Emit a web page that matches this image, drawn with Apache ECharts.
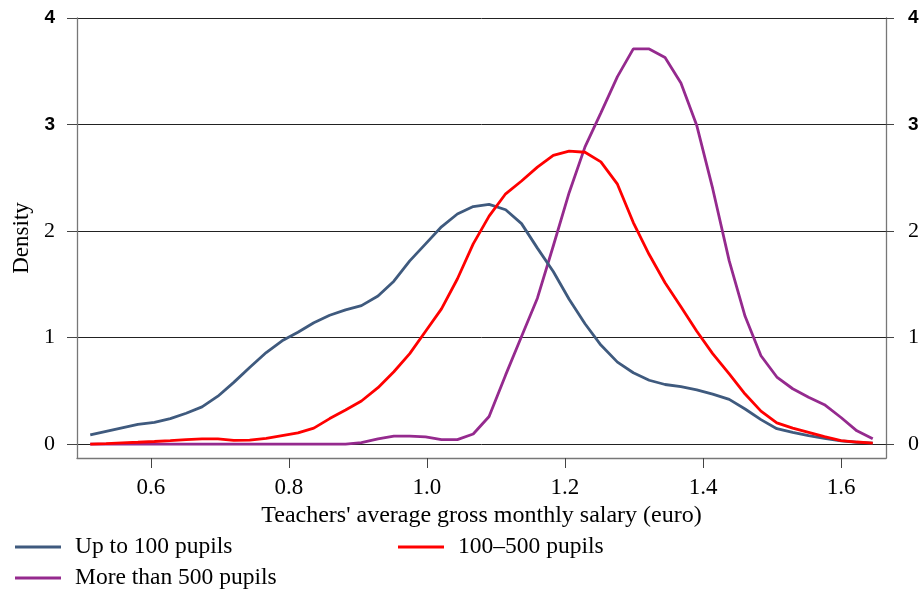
<!DOCTYPE html>
<html>
<head>
<meta charset="utf-8">
<script src="https://cdn.jsdelivr.net/npm/echarts@6/dist/echarts.min.js"></script>
<style>html,body{margin:0;padding:0;background:#fff}#c{width:924px;height:593px}</style>
</head>
<body>
<div id="c"></div>
<script>
var salary = [0.512,0.535,0.558,0.581,0.605,0.628,0.651,0.674,0.697,0.720,
  0.743,0.767,0.790,0.813,0.836,0.859,0.882,0.905,0.929,0.952,
  0.975,0.998,1.021,1.044,1.067,1.090,1.114,1.137,1.160,1.183,
  1.206,1.229,1.252,1.276,1.299,1.322,1.345,1.368,1.391,1.414,
  1.438,1.461,1.484,1.507,1.530,1.553,1.576,1.600,1.623,1.646];
var upTo100 = [0.087,0.12,0.153,0.185,0.205,0.24,0.29,0.35,0.45,0.58,
  0.72,0.86,0.97,1.05,1.14,1.21,1.26,1.30,1.39,1.53,
  1.72,1.88,2.04,2.16,2.23,2.25,2.20,2.07,1.84,1.62,
  1.36,1.13,0.93,0.77,0.67,0.60,0.56,0.54,0.51,0.47,
  0.42,0.33,0.23,0.145,0.11,0.08,0.055,0.03,0.018,0.01];
var from100to500 = [0.0,0.005,0.012,0.018,0.025,0.033,0.042,0.05,0.05,0.036,
  0.037,0.055,0.08,0.105,0.15,0.24,0.32,0.405,0.53,0.68,
  0.85,1.06,1.27,1.55,1.88,2.14,2.35,2.47,2.60,2.71,
  2.75,2.74,2.65,2.44,2.08,1.78,1.515,1.29,1.06,0.85,
  0.66,0.47,0.31,0.20,0.15,0.11,0.07,0.034,0.02,0.01];
var over500 = [0,0,0,0,0,0,0,0,0,0,
  0,0,0,0,0,0,0,0.015,0.05,0.075,
  0.075,0.068,0.043,0.043,0.095,0.26,0.65,1.01,1.37,1.86,
  2.36,2.79,3.11,3.45,3.71,3.71,3.63,3.39,2.99,2.40,
  1.72,1.20,0.83,0.63,0.52,0.44,0.37,0.25,0.125,0.05];
var xTicks = [0.6,0.8,1.0,1.2,1.4,1.6];
var yTicks = [0,1,2,3,4];
var seriesNames = ['Up to 100 pupils','100\u2013500 pupils','More than 500 pupils'];

function pairs(ys){ return salary.map(function(x,i){ return [x, ys[i]]; }); }

var serif = 'Liberation Serif';
var yRich = {
  a:{fontFamily:serif,fontSize:22,color:'#000'},
  b:{fontFamily:'Liberation Sans',fontWeight:'bold',fontSize:19,color:'#000'}
};
function yFmt(v){ return v>=3 ? '{b|'+v+'}' : '{a|'+v+'}'; }

function yAxisDef(pos){
  return {
    type:'value', position:pos, min:-0.13, max:4,
    axisLine:{show:true,onZero:false,lineStyle:{color:'#777',width:1.3}},
    axisTick:{show:true,length:pos==='left'?10:8,customValues:yTicks,lineStyle:{color:'#444'}},
    axisLabel:{customValues:yTicks,margin:22,formatter:yFmt,rich:yRich},
    splitLine:{show:pos==='left',lineStyle:{color:'#222',width:1}},
    name: pos==='left' ? 'Density' : '',
    nameLocation:'middle', nameGap:44,
    nameTextStyle:{fontFamily:serif,fontSize:23,color:'#000'}
  };
}

function legendDef(name, left, top){
  return {data:[name], orient:'horizontal', left:left, top:top, padding:0,
    icon:'rect', itemWidth:46, itemHeight:3,
    textStyle:{fontFamily:serif,fontSize:23.5,color:'#000',lineHeight:26,padding:[0,0,0,9]}};
}

var colors = ['#3f5a7e','#ff0000','#952a8e'];
var chart = echarts.init(document.getElementById('c'));
chart.setOption({
  animation:false,
  backgroundColor:'#fff',
  grid:{left:77,right:38,top:18,bottom:135,containLabel:false},
  xAxis:{
    type:'value', min:0.4928, max:1.6652,
    axisLine:{show:true,onZero:false,lineStyle:{color:'#777',width:1.3}},
    axisTick:{show:true,length:10,customValues:xTicks,lineStyle:{color:'#444'}},
    axisLabel:{customValues:xTicks,margin:18,fontFamily:serif,fontSize:23,color:'#000',
      formatter:function(v){return v.toFixed(1);}},
    splitLine:{show:false},
    name:"Teachers' average gross monthly salary (euro)",
    nameLocation:'middle', nameGap:44,
    nameTextStyle:{fontFamily:serif,fontSize:24,color:'#000'}
  },
  yAxis:[yAxisDef('left'), yAxisDef('right')],
  legend:[
    legendDef(seriesNames[0], 15, 534),
    legendDef(seriesNames[1], 398, 534),
    legendDef(seriesNames[2], 15, 565)
  ],
  series:[
    {name:seriesNames[0],type:'line',data:pairs(upTo100),showSymbol:false,symbol:'none',
     lineStyle:{color:colors[0],width:2.8},itemStyle:{color:colors[0]},z:3},
    {name:seriesNames[1],type:'line',data:pairs(from100to500),showSymbol:false,symbol:'none',
     lineStyle:{color:colors[1],width:2.8},itemStyle:{color:colors[1]},z:4},
    {name:seriesNames[2],type:'line',data:pairs(over500),showSymbol:false,symbol:'none',
     lineStyle:{color:colors[2],width:2.8},itemStyle:{color:colors[2]},z:2}
  ]
});
</script>
</body>
</html>
